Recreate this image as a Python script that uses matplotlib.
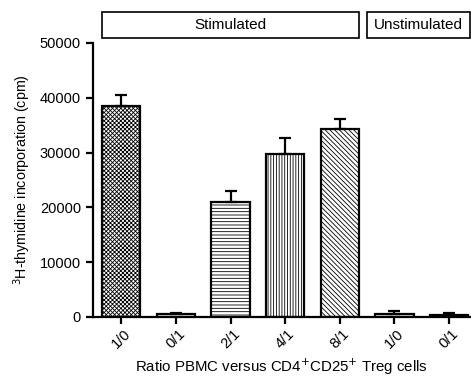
import matplotlib
matplotlib.use("Agg")
import matplotlib.pyplot as plt
import matplotlib.transforms as mtransforms
from matplotlib.patches import Rectangle
import numpy as np

plt.rcParams['font.family'] = ['Liberation Sans', 'DejaVu Sans']
plt.rcParams['hatch.linewidth'] = 0.6

# data
ratios = ["1/0", "0/1", "2/1", "4/1", "8/1", "1/0", "0/1"]
cpm = [38500, 600, 21000, 29800, 34300, 500, 350]
sem = [1900, 200, 2000, 2800, 1900, 500, 300]
hatches = ["xxxxxxxx", "....", "-----", "||||||", "\\\\\\\\\\\\\\", "....", None]
fills = ["white", "white", "white", "white", "white", "white", "black"]
groups = ["Stimulated", "Unstimulated"]

fig = plt.figure(figsize=(4.71, 3.76), dpi=100)
ax = fig.add_axes([0.197, 0.157, 0.803, 0.729])

x = np.arange(len(ratios))
for i in range(len(ratios)):
    ax.bar(x[i], cpm[i], width=0.7, color=fills[i], edgecolor='black',
           linewidth=1.6, hatch=hatches[i], zorder=2)
ax.errorbar(x, cpm, yerr=[np.zeros(len(sem)), sem], fmt='none',
            ecolor='black', elinewidth=1.6, capsize=4.5, capthick=1.6, zorder=3)

ax.set_xlim(-0.52, 6.4)
ax.set_ylim(0, 50000)
ax.set_yticks([0, 10000, 20000, 30000, 40000, 50000])
ax.set_xticks(x)
ax.set_xticklabels(ratios, rotation=45, ha='center', va='top')
ax.tick_params(axis='both', width=1.6, length=5, labelsize=10.5, color='black')
ax.tick_params(axis='x', pad=2)
ax.spines['top'].set_visible(False)
ax.spines['right'].set_visible(False)
ax.spines['left'].set_linewidth(1.6)
ax.spines['bottom'].set_linewidth(1.6)

ax.set_ylabel("$^3$H-thymidine incorporation (cpm)", fontsize=10.3, labelpad=5)
ax.set_xlabel("Ratio PBMC versus CD4$^{+}$CD25$^{+}$ Treg cells", fontsize=10.8, labelpad=4)

# group header boxes above the plot
trans = mtransforms.blended_transform_factory(ax.transData, fig.transFigure)
boxes = [(-0.35, 4.35), (4.5, 6.38)]
for (x0, x1), name in zip(boxes, groups):
    ax.add_patch(Rectangle((x0, 0.899), x1 - x0, 0.069, transform=trans,
                           fill=False, edgecolor='black', linewidth=1.2,
                           clip_on=False))
    ax.text((x0 + x1) / 2, 0.933, name, transform=trans, ha='center',
            va='center', fontsize=11)

fig.savefig("out.png", dpi=100)
